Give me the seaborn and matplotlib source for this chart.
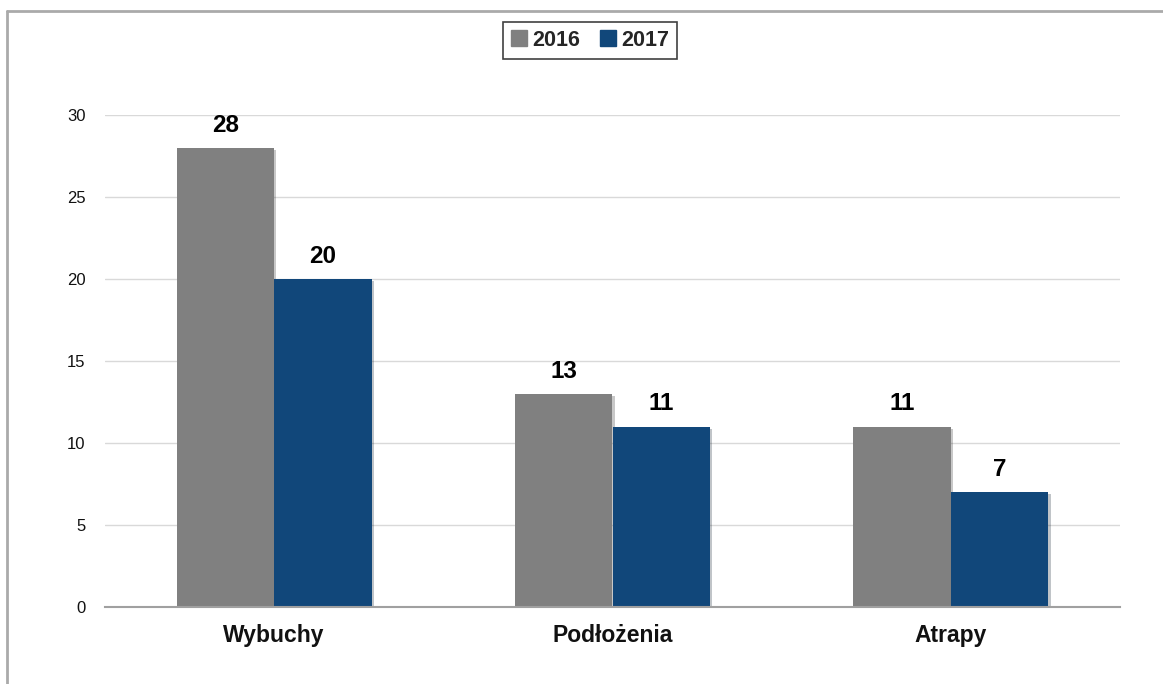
import matplotlib
matplotlib.use("Agg")
import matplotlib.pyplot as plt
import seaborn as sns
import pandas as pd
from matplotlib.lines import Line2D
import matplotlib.patheffects as pe

categories = ["Wybuchy", "Podłożenia", "Atrapy"]
years = ["2016", "2017"]
values_2016 = [28, 13, 11]
values_2017 = [20, 11, 7]
colors = ["#808080", "#11477A"]

df = pd.DataFrame({
    "Kategoria": categories * 2,
    "Rok": [years[0]] * 3 + [years[1]] * 3,
    "Wartość": values_2016 + values_2017,
})

sns.set_theme(style="white")
plt.rcParams["font.family"] = ["Liberation Sans", "DejaVu Sans"]

fig = plt.figure(figsize=(11.63, 6.84), dpi=100)
ax = fig.add_axes([105 / 1163, 1 - 607 / 684, (1120 - 105) / 1163, (607 - 115) / 684])

sns.barplot(data=df, x="Kategoria", y="Wartość", hue="Rok", order=categories,
            hue_order=years, palette=colors, width=0.577, saturation=1,
            ax=ax, legend=False, linewidth=0)

for c in ax.containers:
    for p in c:
        p.set_path_effects([pe.SimplePatchShadow(offset=(1.5, -1.5), alpha=0.25), pe.Normal()])
    ax.bar_label(c, fmt="%d", padding=8, fontsize=17.5, fontweight="bold", color="black")

ax.set_ylim(0, 30)
ax.set_xlim(-0.5, 2.5)
ax.set_yticks([0, 5, 10, 15, 20, 25, 30])
ax.yaxis.grid(True, color="#d9d9d9", linewidth=1)
ax.set_axisbelow(True)
ax.set_xlabel("")
ax.set_ylabel("")
for s in ["top", "right", "left"]:
    ax.spines[s].set_visible(False)
ax.spines["bottom"].set_color("#a0a0a0")
ax.spines["bottom"].set_linewidth(1.5)
ax.tick_params(axis="y", length=0, pad=14, labelsize=12, labelcolor="#111111")
ax.tick_params(axis="x", length=0, pad=12, labelsize=16.5, labelcolor="#111111")
for t in ax.get_xticklabels():
    t.set_fontweight("bold")

handles = [Line2D([], [], marker="s", linestyle="none", markersize=11,
                  markerfacecolor=col, markeredgecolor=col) for col in colors]
leg = fig.legend(handles, years, loc="center", bbox_to_anchor=(590 / 1163, 1 - 40.5 / 684),
                 ncol=2, frameon=True, fancybox=False, handlelength=0.8,
                 handletextpad=0.2, columnspacing=0.9, borderpad=0.35,
                 prop={"weight": "bold", "size": 15.5})
leg.get_frame().set_edgecolor("#111111")
leg.get_frame().set_linewidth(1.2)

# outer frame
fig.add_artist(Line2D([7 / 1163, 1.0], [1 - 11 / 684, 1 - 11 / 684], transform=fig.transFigure,
                      color="#aaaaaa", linewidth=2))
fig.add_artist(Line2D([7 / 1163, 7 / 1163], [0, 1 - 11 / 684], transform=fig.transFigure,
                      color="#aaaaaa", linewidth=2))

fig.savefig("out.png", dpi=100, facecolor="white")
